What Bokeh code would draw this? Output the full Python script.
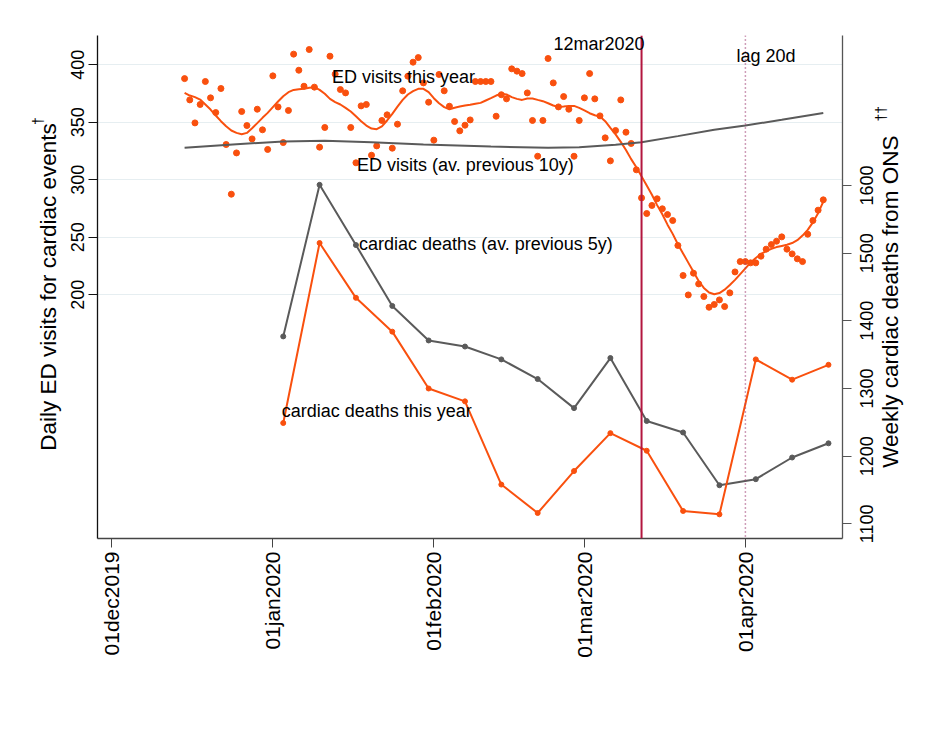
import math
import pandas as pd
from bokeh.plotting import figure
from bokeh.models import Range1d, LinearAxis, FixedTicker, Span, Label
from bokeh.embed import file_html
from bokeh.resources import INLINE

BASE = pd.Timestamp("2019-12-01")

def day_no(dates):
    return [(pd.Timestamp(d) - BASE).days for d in dates]

# ---------------- data ----------------
ed_dates = [d.strftime("%Y-%m-%d") for d in pd.date_range("2019-12-15", "2020-04-16")]

ed_this_year = [
    # Dec 15-31
    388, 369.5, 349.5, 365.5, 385.5, 371.3, 358.5, 379.4, 330.7, 287.5, 323.4, 359.4, 347.2, 335.6, 361.4, 343.5, 326.4,
    # Jan
    390.4, 363.4, 332.4, 360.3, 409.3, 395.3, 381.4, 413.3, 380.6, 328.4, 345.5, 407.5, 391.9, 378.5, 375.6, 345.5,
    314.8, 364.3, 365.5, 321.4, 329.5, 351.6, 356.5, 327.5, 348.4, 377.4, 390.1, 402.3, 406.3, 384.3, 367.5,
    # Feb
    334.5, 391.6, 377.4, 364.0, 350.7, 342.6, 347.5, 352.1, 385.5, 385.5, 385.5, 385.5, 355.3, 374, 370.4, 396.5,
    394.5, 392.4, 375.6, 351.6, 320.5, 351.6, 405.5, 384.3, 363.4, 372.4, 361.4, 320.5, 351.6,
    # Mar
    371.3, 392.4, 370.4, 355.6, 336.5, 316.5, 342.9, 369.5, 341.4, 331.6, 308.7, 284.3, 270.7, 277.7, 283.5, 274.8,
    269.8, 264.6, 242.9, 216.8, 199.9, 218.8, 209.5, 198.5, 189.2, 191.6, 195.6, 189.8, 201.7, 219.9, 228.9,
    # Apr 1-16
    228.9, 227.8, 227.8, 233.6, 239.7, 243.7, 246.6, 250.4, 239.7, 235.6, 231.3, 228.9, 252.7, 264.6, 273.6, 282.6,
]

ed_this_year_smooth = [
    375.6, 373.3, 371.9, 369.8, 365.5, 361.1, 355.9, 351.0, 346.6, 342.9, 340.8, 339.7, 340.8, 344.9, 349.3, 353.9, 358.2,
    363.2, 368.1, 372.7, 376.2, 378.2, 378.8, 379.1, 380.0, 380.6, 378.2, 374.8, 370.4, 367.5, 365.5, 362.6, 359.4,
    355.3, 351.0, 347.2, 344.6, 344.0, 346.4, 351.6, 357.4, 363.7, 369.5, 374.2, 377.1, 379.1, 379.1, 376.2,
    371.0, 366.6, 363.2, 361.4, 362.6, 363.7, 364.6, 365.2, 366.1, 366.9, 369.0, 371.0, 373.3, 374.8, 374.2, 371.9,
    370.4, 369.5, 370.7, 370.7, 369.5, 368.4, 366.6, 364.6, 363.4, 363.7, 364.3, 364.3, 362.6,
    360.3, 357.9, 356.2, 355.0, 351.0, 345.2, 339.5, 333, 326, 318, 311, 303, 295, 287, 278, 270,
    261, 253, 244, 236, 228, 220, 212, 206, 202, 200.5, 201.5, 204.5, 208.5, 213, 218,
    223, 228, 232, 235.5, 238, 240, 241.5, 242.5, 243.5, 245, 247.5, 251.5, 256.5, 263, 271, 281,
]

ed_prev10_dates = ["2019-12-15", "2019-12-25", "2020-01-03", "2020-01-11", "2020-01-20", "2020-01-30",
                   "2020-02-12", "2020-02-23", "2020-02-29", "2020-03-07", "2020-03-12", "2020-03-19",
                   "2020-03-26", "2020-04-01", "2020-04-08", "2020-04-16"]
ed_prev10 = [327.8, 331.0, 333.3, 333.9, 332.7, 330.7, 329.0, 327.8, 328.4, 330.4, 332.7, 338.0,
             343.5, 347.2, 352.2, 358.2]

week_dates = ["2020-01-03", "2020-01-10", "2020-01-17", "2020-01-24", "2020-01-31", "2020-02-07",
              "2020-02-14", "2020-02-21", "2020-02-28", "2020-03-06", "2020-03-13", "2020-03-20",
              "2020-03-27", "2020-04-03", "2020-04-10", "2020-04-17"]
deaths_this_year = [1249, 1515, 1434, 1384, 1300, 1281, 1158, 1116, 1178, 1234, 1208, 1119, 1114, 1343, 1313, 1335]
deaths_prev5 = [1377, 1601, 1512, 1422, 1371, 1362, 1343, 1314, 1271, 1345, 1252, 1235, 1157, 1166, 1198, 1219]

x_tick_dates = ["2019-12-01", "2020-01-01", "2020-02-01", "2020-03-01", "2020-04-01"]
x_tick_labels = ["01dec2019", "01jan2020", "01feb2020", "01mar2020", "01apr2020"]
left_ticks = [200, 250, 300, 350, 400]
right_ticks = [1100, 1200, 1300, 1400, 1500, 1600]
lockdown_date = "2020-03-12"
lag_date = "2020-04-01"

# ---------------- styling ----------------
FONT = "Liberation Sans"
ORANGE = "#F9500E"
GREY = "#5A5A5A"

p = figure(frame_width=745, frame_height=503,
           min_border_left=97, min_border_right=88, min_border_top=35, min_border_bottom=200,
           x_range=Range1d(-2.77, 140.7), y_range=Range1d(-11.9, 425.5),
           output_backend="svg", toolbar_location=None)
p.extra_y_ranges = {"right": Range1d(1078.3, 1821.7)}
p.outline_line_color = None
p.background_fill_color = "white"
p.border_fill_color = "white"

p.xgrid.visible = False
p.ygrid.ticker = FixedTicker(ticks=left_ticks)
p.ygrid.grid_line_color = "#E6EEF1"
p.ygrid.grid_line_width = 1.2

xd = day_no(ed_dates)
p.scatter(xd, ed_this_year, size=6, color=ORANGE, line_color=ORANGE)
p.line(xd, ed_this_year_smooth, line_width=2, color=ORANGE)
p.line(day_no(ed_prev10_dates), ed_prev10, line_width=2, color=GREY)

wd = day_no(week_dates)
p.line(wd, deaths_prev5, line_width=2, color=GREY, y_range_name="right")
p.scatter(wd, deaths_prev5, size=5, color=GREY, y_range_name="right")
p.line(wd, deaths_this_year, line_width=2, color=ORANGE, y_range_name="right")
p.scatter(wd, deaths_this_year, size=5, color=ORANGE, y_range_name="right")

lock_x = day_no([lockdown_date])[0]
lag_x = day_no([lag_date])[0]
p.add_layout(Span(location=lock_x, dimension="height", line_color="#B3163F", line_width=2))
p.add_layout(Span(location=lag_x, dimension="height", line_color="#9E3D72", line_width=1.5,
                  line_dash="1 3"))

# ---- bottom axis
xa = p.xaxis[0]
xa.ticker = FixedTicker(ticks=day_no(x_tick_dates))
xa.major_label_overrides = {t: l for t, l in zip(day_no(x_tick_dates), x_tick_labels)}
xa.major_label_orientation = math.pi / 2
xa.major_label_text_font = FONT
xa.major_label_text_font_size = "21px"
xa.major_label_text_color = "black"
xa.major_tick_out = 9
xa.major_tick_in = 0
xa.minor_tick_out = 0
xa.minor_tick_in = 0
xa.axis_line_color = "#444444"
xa.major_tick_line_color = "#444444"
xa.axis_line_width = 1.3
xa.major_label_standoff = 4

# ---- left axis
ya = p.yaxis[0]
ya.ticker = FixedTicker(ticks=left_ticks)
ya.major_label_orientation = "vertical"
ya.major_label_text_font = FONT
ya.major_label_text_font_size = "18px"
ya.major_label_text_color = "black"
ya.major_tick_out = 9
ya.major_tick_in = 0
ya.minor_tick_out = 0
ya.minor_tick_in = 0
ya.axis_line_color = "#111111"
ya.major_tick_line_color = "#111111"
ya.axis_line_width = 1.3
ya.major_label_standoff = 4
ya.axis_label = "Daily ED visits for cardiac events"
ya.axis_label_text_font = FONT
ya.axis_label_text_font_style = "normal"
ya.axis_label_text_font_size = "22.5px"
ya.axis_label_text_color = "black"
ya.axis_label_standoff = 8

# ---- right axis (labels drawn as side-panel annotations so that they read upward)
ra = LinearAxis(y_range_name="right", ticker=FixedTicker(ticks=right_ticks))
ra.major_label_overrides = {t: "" for t in right_ticks}
ra.major_tick_out = 9
ra.major_tick_in = 0
ra.minor_tick_out = 0
ra.minor_tick_in = 0
ra.axis_line_color = "#555555"
ra.major_tick_line_color = "#555555"
ra.axis_line_width = 1.3
p.add_layout(ra, "right")

for t in right_ticks:
    p.add_layout(Label(x=145.3, y=t, y_range_name="right", text=str(t), angle=math.pi / 2,
                       text_font=FONT, text_font_size="18px", text_color="black",
                       text_align="center", text_baseline="middle"), "right")

p.add_layout(Label(x=149.9, y=194.0, text="Weekly cardiac deaths from ONS", angle=math.pi / 2,
                   text_font=FONT, text_font_size="22.5px", text_color="black",
                   text_align="center", text_baseline="middle"), "right")
p.add_layout(Label(x=148.2, y=357.5, text="\u2020\u2020", angle=math.pi / 2,
                   text_font=FONT, text_font_size="14px", text_color="black",
                   text_align="center", text_baseline="middle"), "right")
p.add_layout(Label(x=-14.3, y=351.0, text="\u2020", angle=math.pi / 2,
                   text_font=FONT, text_font_size="14px", text_color="black",
                   text_align="center", text_baseline="middle"), "left")

# ---- annotations in the plot
def note(text, x, y, **kw):
    lab = Label(x=x, y=y, text=text, text_font=FONT, text_font_size="18px", text_color="black",
                text_baseline="middle", **kw)
    p.add_layout(lab)

note("ED visits this year", 42.4, 389.0)
note("ED visits (av. previous 10y)", 47.2, 312.5)
note("cardiac deaths (av. previous 5y)", 47.6, 243.8)
note("cardiac deaths this year", 32.7, 99.4)
note("12mar2020", lock_x, 418.3, text_align="right", x_offset=3)
note("lag 20d", lag_x, 408.1, x_offset=-9)

open("out.html", "w").write(file_html(p, INLINE))
